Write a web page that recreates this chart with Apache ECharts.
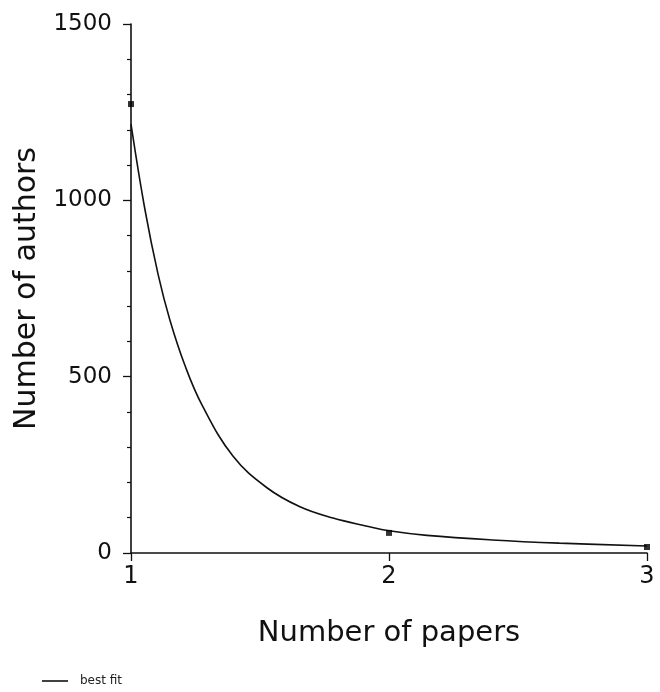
<!DOCTYPE html>
<html>
<head>
<meta charset="utf-8">
<script src="https://cdn.jsdelivr.net/npm/echarts@6/dist/echarts.min.js"></script>
<style>html,body{margin:0;padding:0;background:#fff}#c{width:660px;height:692px}</style>
</head>
<body>
<div id="c"></div>
<script>
// Observed points
var paperCounts = [1, 2, 3];
var authorCounts = [1273, 57, 17];
// Best-fit curve
var fitX = [1.0, 1.054, 1.105, 1.151, 1.21, 1.275, 1.395, 1.527, 1.655, 1.783, 1.915, 2.0, 2.147, 2.40, 2.66, 3.0];
var fitY = [1216, 974, 790, 660, 530, 420, 275, 185, 131, 99, 76, 63, 50, 37, 28, 20];
var xTicks = [1, 2, 3];
var yTicks = [0, 500, 1000, 1500];

var FONT = 'DejaVu Sans';
var chart = echarts.init(document.getElementById('c'), null, {renderer: 'canvas'});
var axisCol = '#111';
chart.setOption({
  animation: false,
  backgroundColor: '#fff',
  grid: {left: 131, right: 13, top: 24, bottom: 139, containLabel: false},
  legend: {
    left: 37, top: 670,
    data: [{name: 'best fit', icon: 'rect'}],
    itemWidth: 26, itemHeight: 1.6, itemGap: 10,
    textStyle: {fontFamily: FONT, fontSize: 12, color: '#222', padding: [0, 0, 0, 7]}
  },
  xAxis: {
    type: 'value', min: xTicks[0], max: xTicks[xTicks.length - 1], interval: 1,
    name: 'Number of papers', nameLocation: 'middle', nameGap: 66,
    nameTextStyle: {fontFamily: FONT, fontSize: 29, color: '#111'},
    axisLine: {show: true, onZero: false, lineStyle: {color: axisCol, width: 1.6}},
    axisTick: {show: true, length: 8, lineStyle: {color: axisCol, width: 1.3}},
    axisLabel: {fontFamily: FONT, fontSize: 24, color: '#111', margin: 12,
      formatter: function (v) { return String(v); }},
    splitLine: {show: false}
  },
  yAxis: {
    type: 'value', min: yTicks[0], max: yTicks[yTicks.length - 1], interval: 500,
    name: 'Number of authors', nameLocation: 'middle', nameGap: 86,
    nameTextStyle: {fontFamily: FONT, fontSize: 30, color: '#111'},
    axisLine: {show: true, onZero: false, lineStyle: {color: axisCol, width: 1.6}},
    axisTick: {show: true, length: 8, lineStyle: {color: axisCol, width: 1.3}},
    minorTick: {show: true, splitNumber: 5, length: 4, lineStyle: {color: axisCol, width: 1.2}},
    axisLabel: {fontFamily: FONT, fontSize: 23, color: '#111', margin: 19,
      formatter: function (v) { return String(v); }},
    splitLine: {show: false},
    minorSplitLine: {show: false}
  },
  series: [
    {
      name: 'best fit', type: 'line',
      data: fitX.map(function (x, i) { return [x, fitY[i]]; }),
      smooth: 0.4, showSymbol: false, symbol: 'none',
      lineStyle: {color: '#111', width: 1.6}, itemStyle: {color: '#111'}, z: 3
    },
    {
      name: 'observed', type: 'scatter',
      data: paperCounts.map(function (x, i) { return [x, authorCounts[i]]; }),
      symbol: 'rect', symbolSize: 6,
      itemStyle: {color: '#000'}, z: 4
    }
  ]
});
</script>
</body>
</html>
